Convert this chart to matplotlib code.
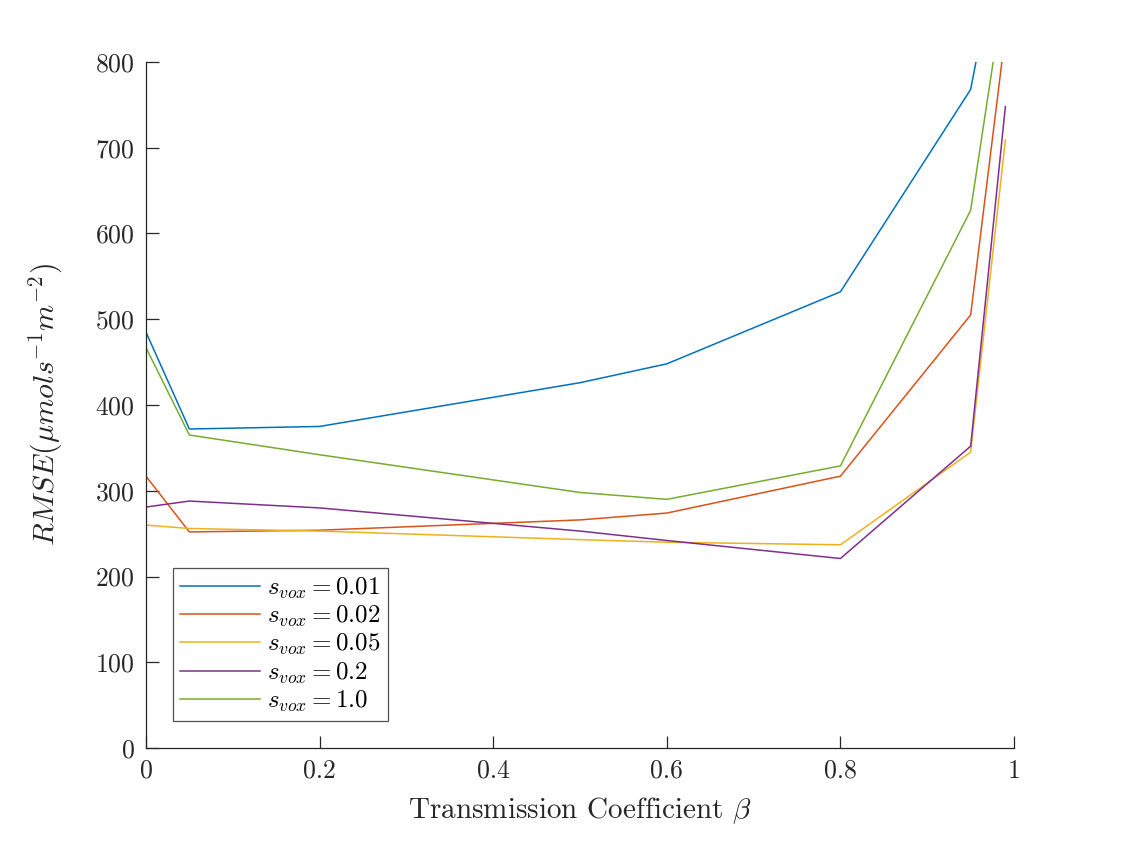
import matplotlib
matplotlib.use('Agg')
import matplotlib.pyplot as plt

# transmission coefficient values
beta = [0, 0.05, 0.2, 0.5, 0.6, 0.8, 0.95, 0.99]

# RMSE per voxel size
rmse_001 = [485, 372, 375, 426, 448, 532, 768, 977]
rmse_002 = [317, 252, 254, 266, 274, 317, 505, 833]
rmse_005 = [260, 256, 253, 243, 240, 237, 345, 709]
rmse_02 = [281, 288, 280, 253, 242, 221, 352, 748]
rmse_10 = [467, 365, 342, 298, 290, 329, 627, 894]

labels = [r'$s_{vox} = 0.01$', r'$s_{vox} = 0.02$', r'$s_{vox} = 0.05$',
          r'$s_{vox} = 0.2$', r'$s_{vox} = 1.0$']
colors = ['#0072BD', '#D95319', '#EDB120', '#7E2F8E', '#77AC30']

plt.rcParams['font.family'] = 'cmr10'
plt.rcParams['mathtext.fontset'] = 'cm'
plt.rcParams['axes.formatter.use_mathtext'] = True

fig = plt.figure(figsize=(11.21, 8.42), dpi=100)
ax = fig.add_axes([0.1302, 0.1116, 0.7744, 0.8148])

for y, lab, c in zip([rmse_001, rmse_002, rmse_005, rmse_02, rmse_10], labels, colors):
    ax.plot(beta, y, color=c, lw=1.1, label=lab)

ax.set_xlim(0, 1)
ax.set_ylim(0, 800)
ax.set_xticks([0, 0.2, 0.4, 0.6, 0.8, 1])
ax.set_xticklabels(['0', '0.2', '0.4', '0.6', '0.8', '1'])
ax.set_yticks(range(0, 801, 100))

for s in ['top', 'right']:
    ax.spines[s].set_visible(False)
for s in ['left', 'bottom']:
    ax.spines[s].set_color('#262626')
    ax.spines[s].set_linewidth(0.9)
ax.tick_params(direction='in', length=9, width=0.9, colors='#262626',
               labelsize=18.5, pad=8)

ax.set_xlabel(r'Transmission Coefficient $\beta$', fontsize=21, color='#262626', labelpad=9)
ax.set_ylabel(r'$RMSE(\mu mol s^{-1} m^{-2})$', fontsize=21.5, color='#262626', labelpad=22)

leg = ax.legend(loc='lower left', bbox_to_anchor=(0.031, 0.039), borderaxespad=0,
                fontsize=18, frameon=True, fancybox=False, handlelength=3.2,
                borderpad=0.3, labelspacing=0.12, handletextpad=0.25)
leg.get_frame().set_edgecolor('#262626')
leg.get_frame().set_linewidth(0.9)

fig.savefig('out.png', dpi=100)
